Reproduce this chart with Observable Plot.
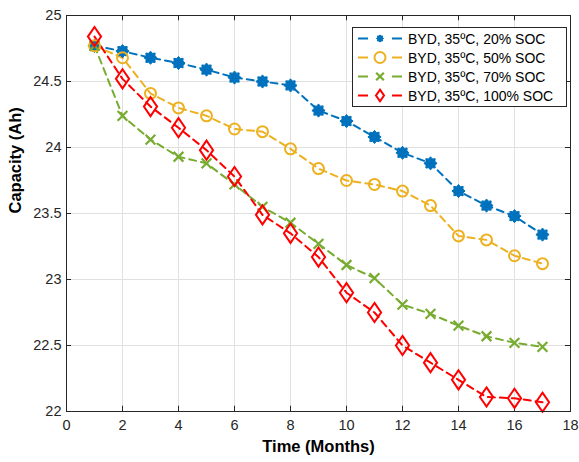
<!DOCTYPE html>
<html>
<head>
<meta charset="utf-8">
<script src="https://cdn.jsdelivr.net/npm/d3@7"></script>
<script src="https://cdn.jsdelivr.net/npm/@observablehq/plot@0.6"></script>
<style>
body { margin: 0; background: #fff; font-family: "Liberation Sans", Arial, sans-serif; }
#wrap { position: relative; width: 579px; height: 462px; }
#legend { position: absolute; left: 352px; top: 27px; width: 215px; height: 80px; border: 1px solid #262626; background: #fff; box-sizing: border-box; padding: 1px 0 0 3px; }
.item { display: flex; align-items: center; height: 19px; font-size: 14px; color: #000; white-space: nowrap; }
.item svg { margin-right: 2px; }
</style>
</head>
<body>
<div id="wrap"><div id="legend"></div></div>
<script>
const months = [1,2,3,4,5,6,7,8,9,10,11,12,13,14,15,16,17];
const seriesNames = ["BYD, 35ºC, 20% SOC", "BYD, 35ºC, 50% SOC", "BYD, 35ºC, 70% SOC", "BYD, 35ºC, 100% SOC"];
const soc20 = [24.77,24.73,24.68,24.64,24.59,24.53,24.50,24.47,24.28,24.20,24.08,23.96,23.88,23.67,23.56,23.48,23.34];
const soc50 = [24.77,24.68,24.41,24.30,24.24,24.14,24.12,23.99,23.84,23.75,23.72,23.67,23.56,23.33,23.30,23.18,23.12];
const soc70 = [24.77,24.24,24.06,23.93,23.88,23.72,23.55,23.43,23.27,23.11,23.01,22.81,22.74,22.65,22.57,22.52,22.49];
const soc100 = [24.84,24.52,24.31,24.15,23.98,23.78,23.49,23.35,23.17,22.90,22.75,22.50,22.37,22.24,22.11,22.10,22.07];
const xTicks = [0,2,4,6,8,10,12,14,16,18];
const yTicks = [22,22.5,23,23.5,24,24.5,25];

const colors = ["#0072BD", "#EDB120", "#77AC30", "#FF0000"];
const allSeries = [soc20, soc50, soc70, soc100];
const data = allSeries.flatMap((vals, i) => months.map((m, j) => ({x: m, y: vals[j], s: seriesNames[i]})));

const tallDiamond = {
  draw(context, size) {
    const r = Math.sqrt(size);
    const w = r * 0.62, h = r * 0.9;
    context.moveTo(0, -h); context.lineTo(w, 0); context.lineTo(0, h); context.lineTo(-w, 0); context.closePath();
  }
};
const fatStar = {
  draw(context, size) {
    const r = Math.sqrt(size) * 0.62;
    const n = 8;
    for (let k = 0; k < n * 2; k++) {
      const a = Math.PI * k / n;
      const rr = k % 2 === 0 ? r : r * 0.72;
      const px = rr * Math.sin(a), py = -rr * Math.cos(a);
      if (k === 0) context.moveTo(px, py); else context.lineTo(px, py);
    }
    context.closePath();
  }
};

const sub = (i) => data.filter(d => d.s === seriesNames[i]);

const marks = [
  Plot.gridX(xTicks, {stroke: "#e0e0e0", strokeOpacity: 1}),
  Plot.gridY(yTicks, {stroke: "#e0e0e0", strokeOpacity: 1}),
  Plot.axisX(xTicks, {tickSize: 0, tickPadding: 8, fontSize: 14.5, fill: "#262626", label: null}),
  Plot.axisY(yTicks, {tickSize: 0, tickPadding: 5, fontSize: 14.5, fill: "#262626", label: null, tickFormat: d => String(d)}),
  Plot.ruleX(xTicks, {x: d => d, y1: 22, y2: 22.04, stroke: "#262626"}),
  Plot.ruleX(xTicks, {x: d => d, y1: 24.96, y2: 25, stroke: "#262626"}),
  Plot.ruleY(yTicks, {y: d => d, x1: 0, x2: 0.18, stroke: "#262626"}),
  Plot.ruleY(yTicks, {y: d => d, x1: 17.82, x2: 18, stroke: "#262626"}),
  ...allSeries.map((v, i) => Plot.line(sub(i), {x: "x", y: "y", stroke: colors[i], strokeWidth: 2, strokeDasharray: "7,5"})),
  Plot.dot(sub(0), {x: "x", y: "y", symbol: fatStar, r: 6, fill: colors[0], stroke: colors[0], strokeWidth: 1}),
  Plot.dot(sub(1), {x: "x", y: "y", symbol: "circle", r: 5.5, fill: "none", stroke: colors[1], strokeWidth: 2}),
  Plot.dot(sub(2), {x: "x", y: "y", symbol: "times", r: 4.5, stroke: colors[2], strokeWidth: 2.2}),
  Plot.dot(sub(3), {x: "x", y: "y", symbol: tallDiamond, r: 6, fill: "none", stroke: colors[3], strokeWidth: 2}),
  Plot.frame({stroke: "#262626", strokeWidth: 1}),
  Plot.text(["Time (Months)"], {frameAnchor: "bottom", dy: 40, fontSize: 16.5, fontWeight: "bold", fill: "#000"}),
  Plot.text(["Capacity (Ah)"], {frameAnchor: "left", dx: -51, rotate: -90, fontSize: 16.5, fontWeight: "bold", fill: "#000"})
];

const chart = Plot.plot({
  width: 579,
  height: 462,
  marginLeft: 66,
  marginRight: 9,
  marginTop: 15,
  marginBottom: 51,
  style: {fontFamily: "Liberation Sans, Arial, sans-serif", background: "#fff", overflow: "visible"},
  x: {domain: [0, 18]},
  y: {domain: [22, 25]},
  marks
});
const wrap = document.getElementById("wrap");
wrap.insertBefore(chart, wrap.firstChild);

// legend
const legend = d3.select("#legend");
const markerFns = [
  g => g.append("path").attr("d", d3.symbol(fatStar, 34)()).attr("fill", colors[0]).attr("stroke", colors[0]),
  g => g.append("circle").attr("r", 5.5).attr("fill", "none").attr("stroke", colors[1]).attr("stroke-width", 2),
  g => g.append("path").attr("d", d3.symbol(d3.symbolTimes, 40)()).attr("fill", "none").attr("stroke", colors[2]).attr("stroke-width", 2.2),
  g => g.append("path").attr("d", d3.symbol(tallDiamond, 42)()).attr("fill", "none").attr("stroke", colors[3]).attr("stroke-width", 2)
];
seriesNames.forEach((name, i) => {
  const item = legend.append("div").attr("class", "item");
  const svg = item.append("svg").attr("width", 50).attr("height", 19);
  svg.append("line").attr("x1", 2).attr("x2", 12).attr("y1", 9.5).attr("y2", 9.5).attr("stroke", colors[i]).attr("stroke-width", 2);
  svg.append("line").attr("x1", 36).attr("x2", 46).attr("y1", 9.5).attr("y2", 9.5).attr("stroke", colors[i]).attr("stroke-width", 2);
  markerFns[i](svg.append("g").attr("transform", "translate(24,9.5)"));
  item.append("span").text(name);
});
</script>
</body>
</html>
